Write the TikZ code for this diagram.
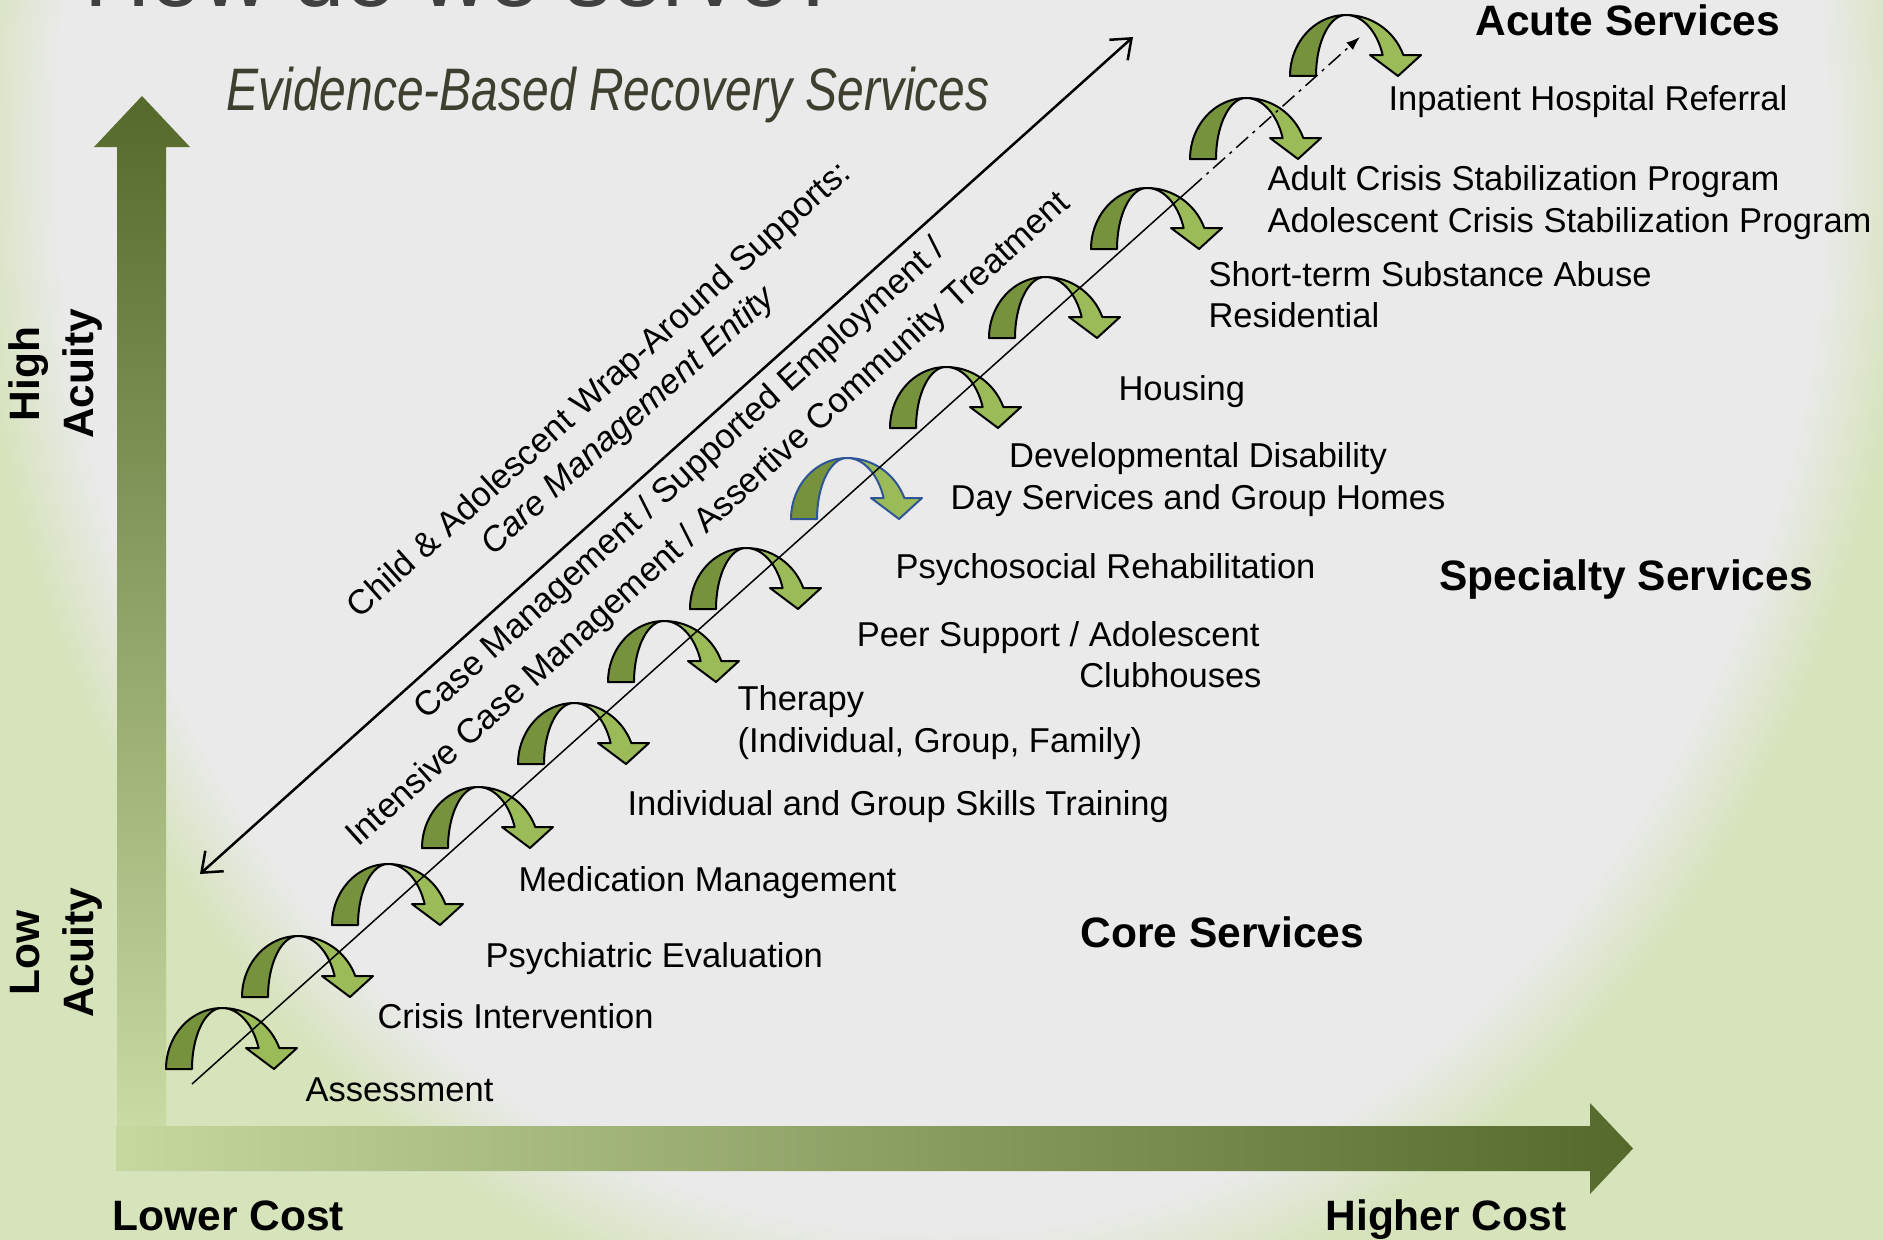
\documentclass[tikz,border=0pt]{standalone}
\usepackage{fontspec}
\setmainfont{Liberation Sans}
\newfontfamily\narrowfont[FakeStretch=0.8]{Liberation Sans}
\usetikzlibrary{arrows.meta}
\definecolor{bggray}{HTML}{EAEAEA}
\definecolor{bggreen}{HTML}{D6E3BB}
\definecolor{darkol}{HTML}{55692B}
\definecolor{midgr}{HTML}{9BBB59}
\definecolor{palegr}{HTML}{C9DBA3}
\definecolor{hleft}{HTML}{C6D89E}
\definecolor{arrdark}{HTML}{76923C}
\definecolor{arrlight}{HTML}{9BBB59}
\definecolor{titlecol}{HTML}{3F3F30}
\definecolor{titlegray}{HTML}{404040}
\definecolor{blueline}{HTML}{2F5597}
\pgfdeclareradialshading{bgrad}{\pgfpoint{0bp}{0bp}}{color(0bp)=(bggray); color(23.5bp)=(bggray); color(25.8bp)=(bggreen); color(60bp)=(bggreen)}
\newcommand{\myUturn}[3]{%
  \filldraw[fill=arrlight, draw=#3, uline]
    plot[domain=90:20.1, samples=24] ({#1+61*cos(\x)},{#2-61*sin(\x)})
    -- ({#1+75},{#2-21}) -- ({#1+52},{#2}) -- ({#1+24},{#2-21})
    -- plot[domain=20.1:90, samples=24] ({#1+39*cos(\x)},{#2-61*sin(\x)}) -- cycle;
  \filldraw[fill=arrdark, draw=#3, uline]
    plot[domain=180:90, samples=24] ({#1+56*cos(\x)},{#2-61*sin(\x)})
    -- plot[domain=90:180, samples=24] ({#1+30*cos(\x)},{#2-61*sin(\x)}) -- cycle;
}
\begin{document}
\begin{tikzpicture}[x=0.4pt, y=-0.4pt,
  uline/.style={line width=0.8pt, line join=round},
  lbl/.style={font=\fontsize{13.8}{16.8}\selectfont, inner sep=0pt, anchor=base west},
  hdr/.style={font=\bfseries\fontsize{17}{21.6}\selectfont, inner sep=0pt, anchor=base west},
  diag/.style={font=\fontsize{13.8}{16.8}\selectfont, inner sep=0pt, rotate=42},
  diagit/.style={font=\itshape\fontsize{13.8}{16.8}\selectfont, inner sep=0pt, rotate=42},
  acu/.style={font=\bfseries\fontsize{17}{21.6}\selectfont, inner sep=0pt, rotate=90, align=center},
  thinline/.style={line width=0.6pt},
  dashdotline/.style={line width=0.6pt, dash pattern=on 6.4pt off 2.4pt on 1.2pt off 2.4pt}
]
\useasboundingbox (0,0) rectangle (1883,1239);
\clip (0,0) rectangle (1883,1239);
% background
\shade[shading=bgrad] (0,-1000) rectangle (1883,1300);
% titles
\node[anchor=base west, inner sep=0pt, font=\fontsize{36.8}{40}\selectfont, text=titlegray] (ttl) at (84,7) {How do we serve?};
\node[anchor=base west, inner sep=0pt, font=\narrowfont\itshape\fontsize{24}{28}\selectfont, text=titlecol] (sub) at (226,110) {Evidence-Based Recovery Services};
% axes
\shade[top color=darkol, middle color=midgr, bottom color=palegr]
  (117,1126) -- (117,147) -- (94,147) -- (142,96) -- (190,147) -- (166,147) -- (166,1126) -- cycle;
\shade[left color=hleft, middle color=midgr, right color=darkol]
  (116,1126) -- (1590,1126) -- (1590,1103) -- (1633,1148.5) -- (1590,1194) -- (1590,1171) -- (116,1171) -- cycle;
% U-turn arrows
\myUturn{222}{1069}{black}
\myUturn{298}{997}{black}
\myUturn{388}{925}{black}
\myUturn{478}{848}{black}
\myUturn{574}{764}{black}
\myUturn{664}{682}{black}
\myUturn{746}{609}{black}
\myUturn{847}{519}{blueline}
\myUturn{946}{428}{black}
\myUturn{1045}{338}{black}
\myUturn{1147}{249}{black}
\myUturn{1246}{159}{black}
\myUturn{1346}{76}{black}
% diagonal lines
\coordinate (ls) at (192,1084);
\coordinate (lm) at (1190,189);
\coordinate (le) at (1360,37);
\draw[thinline] (ls) -- (lm);
\draw[dashdotline, -{Latex[length=5.5pt,width=4pt]}] (lm) -- (le);
\coordinate (da) at (200,874);
\coordinate (db) at (1133,37);
\draw[line width=1pt, {Straight Barb[length=7pt,width=11pt]}-{Straight Barb[length=7pt,width=11pt]}] (da) -- (db);
% diagonal texts
\node[diag] (ch) at (600,391) {Child \& Adolescent Wrap-Around Supports:};
\node[diagit] (cme) at (629,422) {Care Management Entity};
\node[diag] (cm) at (681,480) {Case Management / Supported Employment /};
\node[diag] (icm) at (709,520) {Intensive Case Management / Assertive Community Treatment};
% headers
\node[hdr] (acute) at (1475,36) {Acute Services};
\node[hdr] (spec) at (1439,590) {Specialty Services};
\node[hdr] (core) at (1080,947) {Core Services};
\node[hdr] (lowc) at (112,1230) {Lower Cost};
\node[hdr] (highc) at (1325,1230) {Higher Cost};
\node[acu] (hiac) at (56,374) {High\\Acuity};
\node[acu] (loac) at (56,953) {Low\\Acuity};
% service labels
\node[lbl] (inp) at (1388,110) {Inpatient Hospital Referral};
\node[lbl] (acsp) at (1267,190) {Adult Crisis Stabilization Program};
\node[lbl] (adcsp) at (1267,232) {Adolescent Crisis Stabilization Program};
\node[lbl] (sts) at (1208,286) {Short-term Substance Abuse};
\node[lbl] (res) at (1208,327) {Residential};
\node[lbl] (hous) at (1118,400) {Housing};
\node[lbl, anchor=base] (dd) at (1198,467) {Developmental Disability};
\node[lbl, anchor=base] (dsg) at (1198,509) {Day Services and Group Homes};
\node[lbl] (psr) at (895,578) {Psychosocial Rehabilitation};
\node[lbl, anchor=base east] (peer) at (1260,646) {Peer Support / Adolescent};
\node[lbl, anchor=base east] (club) at (1262,687) {Clubhouses};
\node[lbl] (ther) at (737,710) {Therapy};
\node[lbl] (igf) at (737,752) {(Individual, Group, Family)};
\node[lbl] (igst) at (627,815) {Individual and Group Skills Training};
\node[lbl] (med) at (518,891) {Medication Management};
\node[lbl] (psy) at (485,967) {Psychiatric Evaluation};
\node[lbl] (cri) at (377,1028) {Crisis Intervention};
\node[lbl] (ass) at (305,1101) {Assessment};
\end{tikzpicture}
\end{document}
